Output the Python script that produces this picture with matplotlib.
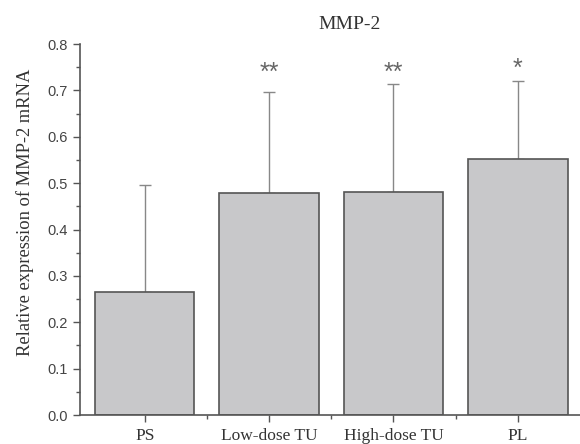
import matplotlib
matplotlib.use("Agg")
import matplotlib.pyplot as plt
from matplotlib.ticker import MultipleLocator, FixedLocator

categories = ["PS", "Low-dose TU", "High-dose TU", "PL"]
means = [0.266, 0.478, 0.481, 0.553]
errors = [0.229, 0.218, 0.233, 0.167]
stars = ["", "**", "**", "*"]
star_heights = [0.0, 0.722, 0.722, 0.731]

fig = plt.figure(figsize=(5.8, 4.44), dpi=100)
ax = fig.add_axes([0.138, 0.0653, 0.862, 0.8356])

x = list(range(len(categories)))
ax.bar(x, means, width=0.8, color="#c8c8ca", edgecolor="#555555", linewidth=1.2, zorder=2)
ax.errorbar(x, means, yerr=[[0]*len(errors), errors], fmt="none", ecolor="#888888",
            elinewidth=1.0, capsize=4, capthick=1.0, zorder=1)
for xi, h, s in zip(x, star_heights, stars):
    if s:
        ax.text(xi, h, s, ha="center", va="baseline", fontsize=18,
                color="#666666", family="Liberation Sans")

ax.set_xlim(-0.52, 3.5)
ax.set_ylim(0, 0.8)
ax.yaxis.set_major_locator(MultipleLocator(0.1))
ax.yaxis.set_minor_locator(MultipleLocator(0.05))
ax.xaxis.set_major_locator(FixedLocator(x))
ax.xaxis.set_minor_locator(FixedLocator([0.5, 1.5, 2.5]))
ax.set_xticklabels(categories, family="Liberation Serif", fontsize=12.5, color="#333333")
for lab in ax.get_yticklabels():
    lab.set_family("Liberation Sans")
    lab.set_fontsize(10.5)
    lab.set_color("#444444")
ax.tick_params(axis="x", which="major", pad=4)
ax.tick_params(axis="both", which="major", direction="out", length=5, width=1, color="#555555")
ax.tick_params(axis="both", which="minor", direction="out", length=3, width=1, color="#555555")
ax.spines["top"].set_visible(False)
ax.spines["right"].set_visible(False)
for sp in ["left", "bottom"]:
    ax.spines[sp].set_color("#555555")
    ax.spines[sp].set_linewidth(1.2)
ax.set_ylabel("Relative expression of MMP-2 mRNA", family="Liberation Serif", fontsize=13.3,
              color="#333333")
ax.yaxis.set_label_coords(-0.092, 0.547)
fig.text(0.602, 0.945, "MMP-2", ha="center", va="center", family="Liberation Serif",
         fontsize=14, color="#333333")

fig.savefig("out.png", dpi=100)
